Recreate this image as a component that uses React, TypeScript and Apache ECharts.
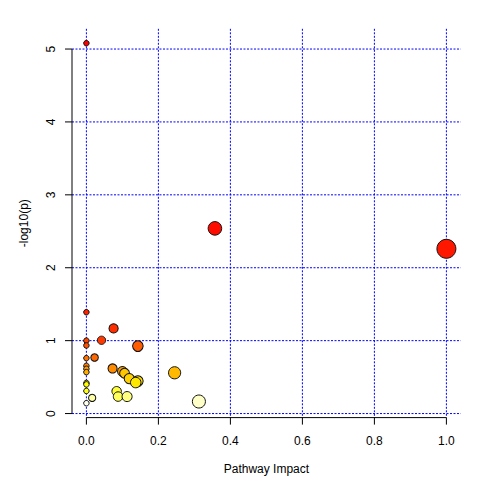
import React, { useEffect, useRef } from "react";
import * as echarts from "echarts";

// Pathway impact (x) and -log10(p) (y), ordered by p-value
const impact = [
  0, 0.357, 1.0, 0, 0.0755, 0.042, 0, 0, 0.143, 0.0227,
  0, 0, 0.0727, 0, 0.1, 0, 0.245, 0.106, 0.119, 0.143,
  0.137, 0, 0, 0, 0.084, 0.088, 0.113, 0.016, 0.3125, 0,
];
const negLogP = [
  5.08, 2.54, 2.26, 1.39, 1.168, 1.005, 1.0, 0.934, 0.925, 0.769,
  0.76, 0.655, 0.618, 0.614, 0.578, 0.568, 0.559, 0.553, 0.48, 0.445,
  0.425, 0.42, 0.4, 0.31, 0.306, 0.233, 0.233, 0.215, 0.165, 0.142,
];

const xTicks = [0, 0.2, 0.4, 0.6, 0.8, 1.0];
const xTickLabels = ["0.0", "0.2", "0.4", "0.6", "0.8", "1.0"];
const yTicks = [0, 1, 2, 3, 4, 5];
const yTickLabels = ["0", "1", "2", "3", "4", "5"];
const xTitle = "Pathway Impact";
const yTitle = "-log10(p)";

const FONT = "Liberation Sans, Arial, Helvetica, sans-serif";

function hsvToHex(h: number, s: number, v: number): string {
  const i = Math.floor(h * 6);
  const f = h * 6 - i;
  const p = v * (1 - s);
  const q = v * (1 - f * s);
  const t = v * (1 - (1 - f) * s);
  let r = 0, g = 0, b = 0;
  switch (((i % 6) + 6) % 6) {
    case 0: r = v; g = t; b = p; break;
    case 1: r = q; g = v; b = p; break;
    case 2: r = p; g = v; b = t; break;
    case 3: r = p; g = q; b = v; break;
    case 4: r = t; g = p; b = v; break;
    default: r = v; g = p; b = q;
  }
  const hx = (x: number) => Math.round(x * 255).toString(16).padStart(2, "0");
  return "#" + hx(r) + hx(g) + hx(b);
}

// R's heat.colors(n)
function heatColors(n: number): string[] {
  const j = Math.floor(n / 4);
  const i = n - j;
  const out: string[] = [];
  for (let k = 0; k < i; k++) {
    const h = i === 1 ? 0 : (k / (i - 1)) * (1 / 6);
    out.push(hsvToHex(h, 1, 1));
  }
  for (let k = 0; k < j; k++) {
    const s0 = 1 - 1 / (2 * j);
    const s1 = 1 / (2 * j);
    const s = j === 1 ? s0 : s0 + ((s1 - s0) * k) / (j - 1);
    out.push(hsvToHex(1 / 6, s, 1));
  }
  return out;
}

function rRange(vals: number[]): [number, number] {
  const mn = Math.min(...vals);
  const mx = Math.max(...vals);
  const d = (mx - mn) * 0.04;
  return [mn - d, mx + d];
}

export default function App() {
  const ref = useRef<HTMLDivElement>(null);

  useEffect(() => {
    if (!ref.current) return;
    const chart = echarts.init(ref.current, undefined, { renderer: "svg" });

    const [xMin, xMax] = rRange(impact);
    const [yMin, yMax] = rRange(negLogP);
    const colors = heatColors(negLogP.length);

    const sqx = impact.map((v) => Math.sqrt(Math.abs(v)));
    const sMin = Math.min(...sqx);
    const sMax = Math.max(...sqx);

    const points = impact.map((x, i) => ({
      value: [x, negLogP[i]],
      itemStyle: { color: colors[i] },
    }));

    const axesRender = (params: any, api: any) => {
      const cs = params.coordSys;
      const left = cs.x;
      const top = cs.y;
      const right = cs.x + cs.width;
      const bottom = cs.y + cs.height;
      const children: any[] = [];
      const grid = { stroke: "#0000ff", lineWidth: 1, lineDash: [2, 1.5] };
      const axisStyle = { stroke: "#000", lineWidth: 1 };
      const textStyle = (text: string) => ({
        text,
        fill: "#000",
        font: `12px ${FONT}`,
        textAlign: "center",
        textVerticalAlign: "middle",
      });

      // grid lines
      xTicks.forEach((t) => {
        const px = api.coord([t, 0])[0];
        children.push({ type: "line", shape: { x1: px, y1: top, x2: px, y2: bottom }, style: grid });
      });
      yTicks.forEach((t) => {
        const py = api.coord([0, t])[1];
        children.push({ type: "line", shape: { x1: left, y1: py, x2: right, y2: py }, style: grid });
      });

      // x axis
      const x0 = api.coord([xTicks[0], 0])[0];
      const x1 = api.coord([xTicks[xTicks.length - 1], 0])[0];
      children.push({ type: "line", shape: { x1: x0, y1: bottom, x2: x1, y2: bottom }, style: axisStyle });
      xTicks.forEach((t, i) => {
        const px = api.coord([t, 0])[0];
        children.push({ type: "line", shape: { x1: px, y1: bottom, x2: px, y2: bottom + 7 }, style: axisStyle });
        children.push({ type: "text", x: px, y: bottom + 23, style: textStyle(xTickLabels[i]) });
      });
      children.push({ type: "text", x: (left + right) / 2, y: bottom + 51.5, style: textStyle(xTitle) });

      // y axis
      const y0 = api.coord([0, yTicks[0]])[1];
      const y1 = api.coord([0, yTicks[yTicks.length - 1]])[1];
      children.push({ type: "line", shape: { x1: left, y1: y0, x2: left, y2: y1 }, style: axisStyle });
      yTicks.forEach((t, i) => {
        const py = api.coord([0, t])[1];
        children.push({ type: "line", shape: { x1: left, y1: py, x2: left - 7, y2: py }, style: axisStyle });
        children.push({ type: "text", x: left - 21, y: py, rotation: Math.PI / 2, style: textStyle(yTickLabels[i]) });
      });
      children.push({
        type: "text",
        x: left - 48,
        y: (top + bottom) / 2,
        rotation: Math.PI / 2,
        style: textStyle(yTitle),
      });

      return { type: "group", children };
    };

    chart.setOption({
      animation: false,
      backgroundColor: "#ffffff",
      grid: { left: 72, right: 43.2, top: 28.8, bottom: 86.4, containLabel: false },
      xAxis: {
        type: "value",
        min: xMin,
        max: xMax,
        show: false,
        splitLine: { show: false },
      },
      yAxis: {
        type: "value",
        min: yMin,
        max: yMax,
        show: false,
        splitLine: { show: false },
      },
      series: [
        {
          type: "custom",
          z: 1,
          silent: true,
          clip: false,
          data: [[0, 0]],
          renderItem: axesRender,
        },
        {
          type: "scatter",
          z: 2,
          silent: true,
          symbol: "circle",
          data: points,
          symbolSize: (_v: any, p: any) => {
            const sq = sqx[p.dataIndex];
            const maxR = (sMax - sMin) / 40;
            const minR = (sMax - sMin) / 160;
            const r = minR + ((maxR - minR) * (sq - sMin)) / (sMax - sMin);
            // radius in x-units -> pixels
            const pxPerUnit = (504 - 72 - 43.2) / (xMax - xMin);
            return 2 * r * pxPerUnit + 1;
          },
          itemStyle: { borderColor: "#111", borderWidth: 1, opacity: 1 },
        },
      ],
    });

    return () => chart.dispose();
  }, []);

  return (
    <div
      ref={ref}
      style={{ position: "fixed", left: 0, top: 0, width: 504, height: 504, background: "#fff" }}
    />
  );
}
